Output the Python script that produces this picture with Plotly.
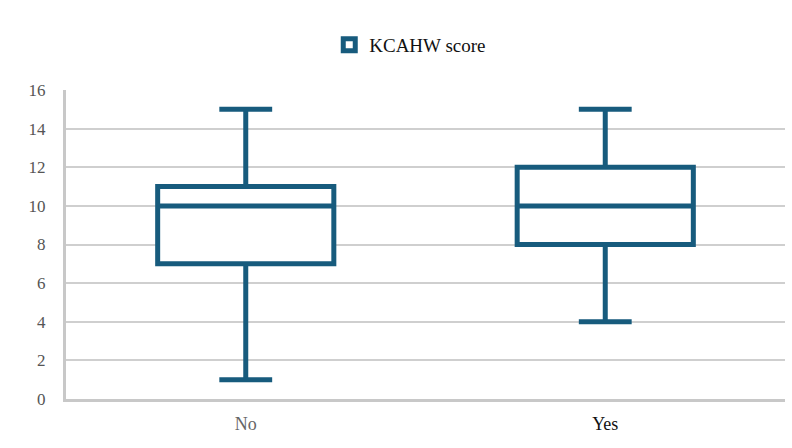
import plotly.graph_objects as go

categories = ["No", "Yes"]
tick_labels = ["<span style='color:#666666'>No</span>", "<span style='color:#111111'>Yes</span>"]
mins = [1, 4]
q1s = [7, 8]
medians = [10, 10]
q3s = [11, 12]
maxs = [15, 15]
series_name = "KCAHW score"

SERIF = "Liberation Serif"

fig = go.Figure()
fig.add_trace(go.Box(
    name=series_name,
    x=categories,
    q1=q1s, median=medians, q3=q3s,
    lowerfence=mins, upperfence=maxs,
    fillcolor="white",
    line=dict(color="#175b7d", width=5),
    whiskerwidth=0.3,
    width=0.49,
    boxpoints=False,
    hoverinfo="skip",
))

fig.update_layout(
    width=792, height=448,
    margin=dict(l=66, r=7, t=90, b=49, autoexpand=False),
    paper_bgcolor="white", plot_bgcolor="white",
    font=dict(family=SERIF, size=15, color="#111111"),
    showlegend=True,
    legend=dict(orientation="h", xref="container", x=0.518, xanchor="center",
                yref="container", y=0.9, yanchor="middle",
                font=dict(family=SERIF, size=19, color="#111111")),
    xaxis=dict(
        range=[-0.5, 1.5], automargin=False,
        tickmode="array", tickvals=categories, ticktext=tick_labels,
        showgrid=False, showline=True, linecolor="#c8c8c8", linewidth=3,
        ticks="", ticklabelstandoff=6, tickfont=dict(family=SERIF, size=18),
    ),
    yaxis=dict(
        range=[0, 16], dtick=2, tick0=0, automargin=False,
        showgrid=True, gridcolor="#cfcfcf", gridwidth=2,
        showline=True, linecolor="#c8c8c8", linewidth=3,
        zeroline=False, ticks="", ticklabelstandoff=14,
        tickfont=dict(family=SERIF, size=17, color="#555555"),
    ),
)

fig.write_html(
    "out.html",
    config={"displayModeBar": False},
    post_script="document.body.style.margin='0';document.body.style.overflow='hidden';",
)
